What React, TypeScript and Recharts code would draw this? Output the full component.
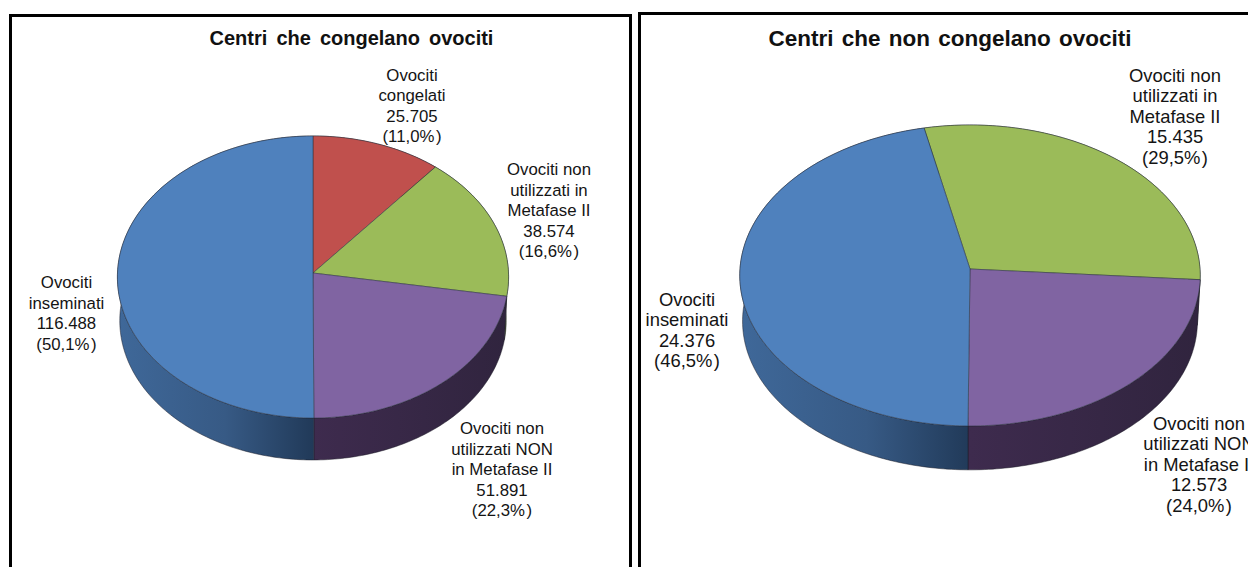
import React from "react";
import { PieChart, Pie } from "recharts";

const FONT = "'Liberation Sans', Arial, sans-serif";

// ---------- data ----------
const leftTitle = "Centri che congelano ovociti";
const leftNames = [
  ["Ovociti", "congelati"],
  ["Ovociti non", "utilizzati in", "Metafase II"],
  ["Ovociti non", "utilizzati NON", "in Metafase II"],
  ["Ovociti", "inseminati"],
];
const leftValues = [25705, 38574, 51891, 116488];

const rightTitle = "Centri che non congelano ovociti";
const rightNames = [
  ["Ovociti non", "utilizzati in", "Metafase II"],
  ["Ovociti non", "utilizzati NON", "in Metafase II"],
  ["Ovociti", "inseminati"],
];
const rightValues = [15435, 12573, 24376];

const RED = "#c0504d";
const GREEN = "#9bbb59";
const PURPLE = "#8064a2";
const BLUE = "#4f81bd";
const leftColors = [RED, GREEN, PURPLE, BLUE];
const rightColors = [GREEN, PURPLE, BLUE];

// ---------- layout (not data) ----------
const leftLabelPos = [
  { x: 412, y: 76.5 },
  { x: 549, y: 171 },
  { x: 502, y: 430 },
  { x: 66.5, y: 284 },
];
const rightLabelPos = [
  { x: 537, y: 77 },
  { x: 561, y: 425 },
  { x: 49, y: 301 },
];

const LINE_H = 20.5;
const FAR_SCALE = 0.988;

const fmtInt = (v: number) => String(v).replace(/\B(?=(\d{3})+$)/g, ".");
const fmtPct = (p: number) => (p * 100).toFixed(1).replace(".", ",") + "%";

type Geo = { ratio: number; k: number; depth: number };

function rim(cx: number, cy: number, r: number, deg: number, g: Geo) {
  const a = (deg * Math.PI) / 180;
  const X = Math.cos(a);
  const Y = -Math.sin(a);
  const d = 1 - g.k * Y;
  return { x: cx + (r * X) / d, y: cy + (r * g.ratio * Y) / d };
}

function arcPts(p: any, g: Geo) {
  const { cx, cy, outerRadius, startAngle, endAngle } = p;
  const n = Math.max(2, Math.ceil(Math.abs(endAngle - startAngle)));
  const pts = [];
  for (let i = 0; i <= n; i++) {
    pts.push(rim(cx, cy, outerRadius, startAngle + ((endAngle - startAngle) * i) / n, g));
  }
  return pts;
}

const topShape = (g: Geo) => (p: any) => {
  const pts = arcPts(p, g);
  const d =
    `M${p.cx},${p.cy} ` + pts.map((q) => `L${q.x.toFixed(2)},${q.y.toFixed(2)}`).join(" ") + " Z";
  return <path d={d} fill={p.fill} stroke="#2a3340" strokeOpacity={0.65} strokeWidth={0.8} strokeLinejoin="round" />;
};

const wallShape = (g: Geo, prefix: string) => (p: any) => {
  const pts = arcPts(p, g);
  const top = pts.map((q) => `${q.x.toFixed(2)},${q.y.toFixed(2)}`);
  const bot = pts
    .slice()
    .reverse()
    .map(
      (q) =>
        `${(p.cx + (q.x - p.cx) * FAR_SCALE).toFixed(2)},${(p.cy + (q.y - p.cy) * FAR_SCALE + g.depth).toFixed(2)}`
    );
  const d = "M" + top.join(" L") + " L" + bot.join(" L") + " Z";
  const id = p.fill === BLUE ? `${prefix}-blue` : p.fill === PURPLE ? `${prefix}-purple` : null;
  const fill = id ? `url(#${id})` : p.fill === RED ? "#6d2c2a" : "#5a6e32";
  return <path d={d} fill={fill} stroke="#1a1a24" strokeOpacity={0.6} strokeWidth={0.8} strokeLinejoin="round" />;
};

const makeLabel = (names: string[][], pos: { x: number; y: number }[], size: number) => (p: any) => {
  const i = p.index;
  const lines = [...names[i], fmtInt(p.value)];
  const n = lines.length;
  return (
    <text key={i} textAnchor="middle" fontFamily={FONT} fontSize={size} fill="#141414">
      {lines.map((t, j) => (
        <tspan key={j} x={pos[i].x} y={pos[i].y + j * LINE_H} dominantBaseline="middle">
          {t}
        </tspan>
      ))}
      <tspan x={pos[i].x} y={pos[i].y + n * LINE_H} dominantBaseline="middle">
        {`(${fmtPct(p.percent)}`}
        <tspan dx={1.5}>)</tspan>
      </tspan>
    </text>
  );
};

function PiePanel(props: {
  left: number;
  width: number;
  title: string;
  titleX: number;
  titleSize: number;
  wordSpacing: number;
  labelSize: number;
  names: string[][];
  values: number[];
  colors: string[];
  labelPos: { x: number; y: number }[];
  cx: number;
  cy: number;
  r: number;
  startAngle: number;
  geo: Geo;
  id: string;
}) {
  const { left, width, title, titleX, titleSize, wordSpacing, labelSize, names, values, colors, labelPos, cx, cy, r, startAngle, geo, id } = props;
  const rows = values.map((value, i) => ({ name: names[i].join(" "), value, fill: colors[i] }));
  const common = {
    data: rows,
    dataKey: "value",
    nameKey: "name",
    cx,
    cy,
    outerRadius: r,
    innerRadius: 0,
    startAngle,
    endAngle: startAngle - 360,
    isAnimationActive: false,
    stroke: "none",
  };
  return (
    <div style={{ position: "absolute", left, top: 0 }}>
      <PieChart width={width} height={567} margin={{ top: 0, right: 0, bottom: 0, left: 0 }}>
        <defs>
          <linearGradient id={`${id}-blue`} gradientUnits="userSpaceOnUse" x1={cx - r} x2={cx} y1={0} y2={0}>
            <stop offset="0" stopColor="#3f6899" />
            <stop offset="0.55" stopColor="#375a85" />
            <stop offset="1" stopColor="#213a59" />
          </linearGradient>
          <linearGradient id={`${id}-purple`} gradientUnits="userSpaceOnUse" x1={cx} x2={cx + r} y1={0} y2={0}>
            <stop offset="0" stopColor="#3e2b4e" />
            <stop offset="1" stopColor="#30243e" />
          </linearGradient>
        </defs>
        <text x={titleX} y={40} textAnchor="middle" dominantBaseline="middle" fontFamily={FONT} fontWeight="bold" fontSize={titleSize} wordSpacing={wordSpacing} fill="#111">
          {title}
        </text>
        <Pie {...common} shape={wallShape(geo, id)} label={false} labelLine={false} />
        <Pie {...common} shape={topShape(geo)} label={makeLabel(names, labelPos, labelSize)} labelLine={false} />
      </PieChart>
    </div>
  );
}

const panelStyle = (left: number, top: number, width: number): React.CSSProperties => ({
  position: "absolute",
  left,
  top,
  width,
  height: 600,
  boxSizing: "border-box",
  border: "3px solid #000",
  background: "#fff",
});

export default function App() {
  return (
    <div style={{ position: "absolute", left: 0, top: 0, width: 1248, height: 567, overflow: "hidden", background: "#fff" }}>
      <div style={panelStyle(9, 14, 623)} />
      <div style={panelStyle(638, 12, 640)} />
      <PiePanel
        left={0}
        width={632}
        title={leftTitle}
        titleX={351.5}
        titleSize={20}
        wordSpacing={3.5}
        labelSize={16.8}
        names={leftNames}
        values={leftValues}
        colors={leftColors}
        labelPos={leftLabelPos}
        cx={313}
        cy={273}
        r={195.5}
        startAngle={90}
        geo={{ ratio: 140.9 / 195.5, k: 0.0284, depth: 43.7 }}
        id="l"
      />
      <PiePanel
        left={638}
        width={610}
        title={rightTitle}
        titleX={312}
        titleSize={22.5}
        wordSpacing={2}
        labelSize={18.4}
        names={rightNames}
        values={rightValues}
        colors={rightColors}
        labelPos={rightLabelPos}
        cx={332}
        cy={269}
        r={230}
        startAngle={102}
        geo={{ ratio: 150.2 / 230, k: 0.043, depth: 45.8 }}
        id="r"
      />
    </div>
  );
}
